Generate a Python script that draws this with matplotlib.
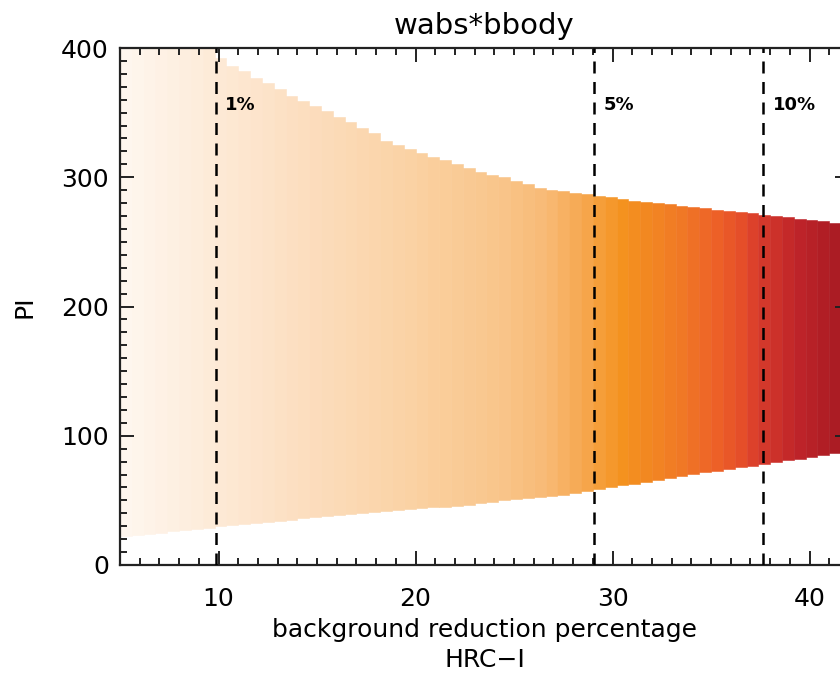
import numpy as np
import matplotlib
matplotlib.use("Agg")
import matplotlib.pyplot as plt
from matplotlib.colors import LinearSegmentedColormap

# ---- data -------------------------------------------------------------
title = "wabs*bbody"
x_start = 5.0          # left edge of first column (background reduction %)
col_width = 0.6        # width of each column
# upper PI bound per column
pi_upper = [400, 400, 400, 400, 400, 400, 400, 400, 392, 386,
            382, 377, 373, 368, 363, 359, 355, 351, 347, 343,
            338, 334, 328, 325, 322, 319, 316, 313, 310, 307,
            304, 302, 300, 297, 295, 292, 290, 289, 288, 287,
            285.5, 284.5, 283, 282, 281, 280, 279, 278, 277, 276,
            275, 274, 273, 272, 271, 270, 269, 268, 267, 266,
            264.5, 263.5]
# lower PI bound per column
pi_lower = [22.2, 23.2, 24.1, 25.0, 26.0, 27.0, 27.9, 28.9, 29.8, 30.6,
            31.5, 32.3, 33.1, 34.1, 35.0, 36.0, 37.1, 38.2, 39.0, 39.7,
            40.4, 41.1, 41.8, 42.4, 43.1, 43.8, 44.5, 45.2, 45.9, 46.6,
            47.6, 48.8, 50.0, 51.0, 51.8, 52.6, 53.3, 54.5, 55.8, 57.2,
            58.7, 60.1, 61.6, 63.0, 64.5, 65.9, 67.3, 68.7, 70.1, 71.6,
            73.0, 74.2, 75.6, 76.9, 78.3, 79.6, 80.9, 82.3, 83.6, 85.0,
            86.5, 87.8]
# reference fraction lines
line_labels = ["1%", "5%", "10%"]
line_x = [9.85, 29.05, 37.65]

# colour gradient stops (x position, colour)
grad_x = [5.0, 9.8, 14.1, 19.2, 24.3, 26.6, 28.4, 30.5, 33.4, 35.1, 36.8, 37.6, 39.4, 42.0]
grad_c = ["#FEF7F0", "#FDEAD6", "#FCDEC0", "#FAD3A6", "#F9C58A", "#F8BA76", "#F6A850",
          "#F4921F", "#F07A25", "#EE6327", "#E3492A", "#D63A2B", "#BE2429", "#A61A22"]

# ---- figure -----------------------------------------------------------
plt.rcParams['font.family'] = ['DejaVu Sans']
fig = plt.figure(figsize=(8.4, 6.74), dpi=100)
ax = fig.add_axes([120/840, 109/674, 729/840, 517/674])

xmin, xmax = 5, 42
cmap = LinearSegmentedColormap.from_list(
    "grad", [((gx - xmin) / (xmax - xmin), gc) for gx, gc in zip(grad_x, grad_c)])

n = len(pi_upper)
lefts = x_start + col_width * np.arange(n)
centers = lefts + col_width / 2
upper = np.array(pi_upper)
lower = np.array(pi_lower)
cols = [cmap(np.clip((c - xmin) / (xmax - xmin), 0, 1)) for c in centers]
ax.bar(lefts, upper - lower, bottom=lower, width=col_width, align='edge',
       color=cols, edgecolor=cols, linewidth=0.4, zorder=1)

for lx, lab in zip(line_x, line_labels):
    ax.axvline(lx, color='black', lw=1.8, dashes=(4.8, 3.4), zorder=3)
    ax.text(lx + 0.5, 356, lab, fontsize=13, fontweight='bold',
            ha='left', va='center', zorder=4)

ax.set_xlim(xmin, xmax)
ax.set_ylim(0, 400)
ax.set_xticks([10, 20, 30, 40])
ax.set_xticks(np.arange(5, 43, 1), minor=True)
ax.set_yticks([0, 100, 200, 300, 400])
ax.set_yticks(np.arange(0, 401, 10), minor=True)
ax.tick_params(which='both', direction='in', top=True, right=True, width=1.4,
               labelsize=18, color='#222222')
ax.tick_params(which='major', length=10)
ax.tick_params(which='minor', length=5)
ax.tick_params(axis='x', pad=16)
ax.tick_params(axis='y', pad=8)
for s in ax.spines.values():
    s.set_linewidth(1.6)
    s.set_color('#222222')

ax.set_xlabel("background reduction percentage\nHRC\u2212I", fontsize=18,
              labelpad=5, linespacing=1.3)
ax.set_ylabel("PI", fontsize=18, labelpad=18)
ax.set_title(title, fontsize=21, pad=10)

fig.savefig("out.png", dpi=100)
